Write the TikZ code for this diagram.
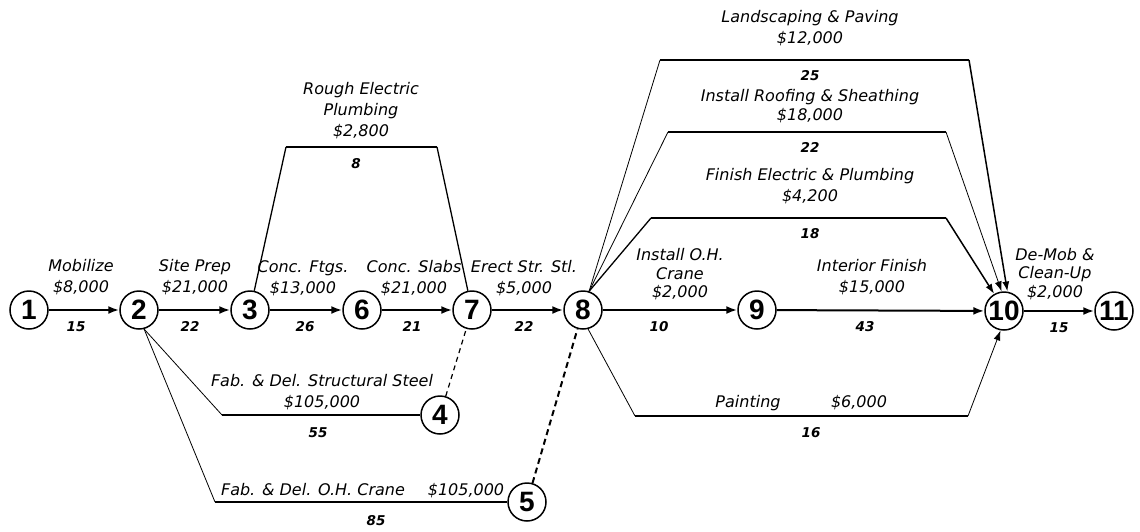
\documentclass[tikz,border=0pt]{standalone}
\usepackage{fontspec}
\setmainfont{DejaVu Sans}
\newfontfamily\numfont{Liberation Sans}
\usetikzlibrary{arrows.meta}
\tikzset{
  ev/.style={circle,draw,line width=1.5pt,minimum size=38pt,inner sep=0pt,
    font=\numfont\bfseries\fontsize{28}{28}\selectfont},
  lab/.style={align=center,inner sep=0pt,font=\itshape\fontsize{16}{21}\selectfont},
  labs/.style={align=center,inner sep=0pt,font=\itshape\fontsize{16}{18.5}\selectfont},
  lab1/.style={inner sep=0pt,anchor=base,font=\itshape\fontsize{16}{21}\selectfont},
  dur/.style={inner sep=0pt,anchor=base,font=\bfseries\itshape\fontsize{13.5}{15}\selectfont},
  act/.style={line width=2pt,-{Latex[length=11pt,width=8pt]}},
  tarr/.style={-{Latex[length=10pt,width=7pt]}},
  thinln/.style={line width=0.8pt},
  medln/.style={line width=1.3pt},
  thickln/.style={line width=2pt},
}
\begin{document}
\begin{tikzpicture}[x=1pt,y=-1pt]
\useasboundingbox (0,0) rectangle (1140,531);
% events
\node[ev] (n1) at (29,310) {1};
\node[ev] (n2) at (139,310) {2};
\node[ev] (n3) at (250,310) {3};
\node[ev] (n6) at (362,310) {6};
\node[ev] (n7) at (472,310) {7};
\node[ev] (n8) at (583,310) {8};
\node[ev] (n9) at (757,310) {9};
\node[ev] (n10) at (1004,311) {10};
\node[ev] (n11) at (1114,311) {11};
\node[ev] (n4) at (440,415) {4};
\node[ev] (n5) at (527,502) {5};
% bend points
\coordinate (r1) at (286,147);
\coordinate (r2) at (437,147);
\coordinate (s1) at (222,415);
\coordinate (c1) at (215,502);
\coordinate (a1) at (660,60);
\coordinate (a2) at (969,60);
\coordinate (b1) at (668,132);
\coordinate (b2) at (946,132);
\coordinate (f1) at (651,218);
\coordinate (f2) at (946,218);
\coordinate (p1) at (635,416);
\coordinate (p2) at (968,416);
% main chain
\draw[act] (n1) -- (n2);
\draw[act] (n2) -- (n3);
\draw[act] (n3) -- (n6);
\draw[act] (n6) -- (n7);
\draw[act] (n7) -- (n8);
\draw[act] (n8) -- (n9);
\draw[act] (n9) -- (n10);
\draw[act] (n10) -- (n11);
% rough electric
\draw[medln] (n3) -- (r1);
\draw[thickln] (r1) -- (r2);
\draw[medln] (r2) -- (n7);
% fabrication branches
\draw[thinln] (n2.-75) -- (s1);
\draw[thickln] (s1) -- (n4);
\draw[thinln] (n2.-75) -- (c1);
\draw[thickln] (c1) -- (n5);
% dummies
\draw[line width=1.2pt,dash pattern=on 5pt off 4pt] (n4) -- (n7);
\draw[line width=2pt,dash pattern=on 6pt off 4pt] (n5) -- (n8);
% branches from 8 to 10
\draw[thinln] (n8.72) -- (a1);
\draw[thickln] (a1) -- (a2);
\draw[line width=1.5pt,tarr] (a2) -- (n10.80);
\draw[thinln] (n8.72) -- (b1);
\draw[thickln] (b1) -- (b2);
\draw[thinln,tarr] (b2) -- (n10.97);
\draw[medln] (n8.72) -- (f1);
\draw[thickln] (f1) -- (f2);
\draw[line width=1.5pt,tarr] (f2) -- (n10.120);
\draw[thinln] (n8.-75) -- (p1);
\draw[thickln] (p1) -- (p2);
\draw[thinln,tarr] (p2) -- (n10.-100);
% labels
\node[lab] (l12) at (81,277.5) {Mobilize\\\$8,000};
\node[dur] (d12) at (76,331) {15};
\node[lab] (l23) at (195,277.5) {Site Prep\\\$21,000};
\node[dur] (d23) at (190,331) {22};
\node[lab] (l36) at (303,278.5) {Conc. Ftgs.\\\$13,000};
\node[dur] (d36) at (305,331) {26};
\node[lab] (l67) at (414,278.5) {Conc. Slabs\\\$21,000};
\node[dur] (d67) at (412,331) {21};
\node[lab] (l78) at (524,278) {Erect Str. Stl.\\\$5,000};
\node[dur] (d78) at (524,331) {22};
\node[labs] (l89) at (680,274.5) {Install O.H.\\Crane\\\$2,000};
\node[dur] (d89) at (659,331) {10};
\node[lab] (l910) at (872,277.5) {Interior Finish\\\$15,000};
\node[dur] (d910) at (865,331) {43};
\node[labs] (l1011) at (1055,274) {De-Mob \&\\Clean-Up\\\$2,000};
\node[dur] (d1011) at (1059,332) {15};
\node[lab] (lre) at (361,111) {Rough Electric\\Plumbing\\\$2,800};
\node[dur] (dre) at (356,168) {8};
\node[lab] (lls) at (810,28.5) {Landscaping \& Paving\\\$12,000};
\node[dur] (dls) at (810,80) {25};
\node[labs] (lrf) at (810,106) {Install Roofing \& Sheathing\\\$18,000};
\node[dur] (drf) at (810,152) {22};
\node[lab] (lfe) at (810,186) {Finish Electric \& Plumbing\\\$4,200};
\node[dur] (dfe) at (810,238) {18};
\node[lab] (lfs) at (322,392.5) {Fab. \& Del. Structural Steel\\\$105,000};
\node[dur] (dfs) at (318,437) {55};
\node[lab1] (lfc) at (313,495) {Fab. \& Del. O.H. Crane};
\node[lab1] (lfcc) at (466,495) {\$105,000};
\node[dur] (dfc) at (376,525) {85};
\node[lab1] (lpt) at (748,407) {Painting};
\node[lab1] (lptc) at (859,407) {\$6,000};
\node[dur] (dpt) at (811,437) {16};
\end{tikzpicture}
\end{document}
